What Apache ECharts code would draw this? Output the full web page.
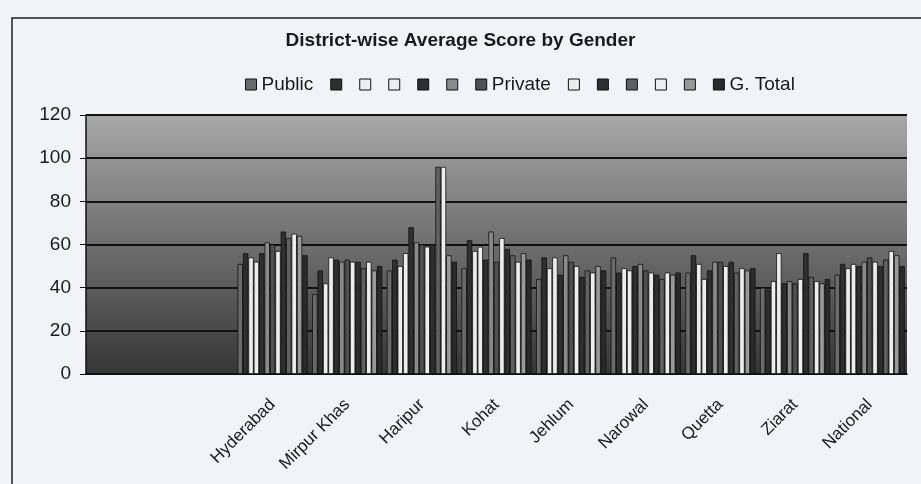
<!DOCTYPE html>
<html>
<head>
<meta charset="utf-8">
<script src="https://cdn.jsdelivr.net/npm/echarts@6/dist/echarts.min.js"></script>
<style>
  html, body { margin: 0; padding: 0; background: #f1f3f7; }
  #chart { width: 921px; height: 484px; }
</style>
</head>
<body>
<div id="chart"></div>
<script>
// districts (first two slots are empty in the original)
const districts = ['', '', 'Hyderabad', 'Mirpur Khas', 'Haripur', 'Kohat', 'Jehlum', 'Narowal', 'Quetta', 'Ziarat', 'National'];

// legend names, only three are labelled in the original
const seriesNames = ['Public', '', '', '', '', '', 'Private', '', '', '', '', '', 'G. Total'];
const seriesColors = ['#6a6a6a', '#2f2f2f', '#ededed', '#ededed', '#2f2f2f', '#8a8a8a', '#505050',
                      '#ededed', '#2f2f2f', '#606060', '#ededed', '#999999', '#2a2a2a'];

// one array per district, 13 bars each
const hyderabad  = [51, 56, 54, 52, 56, 61, 60, 57, 66, 63, 65, 64, 55];
const mirpurKhas = [37, 48, 42, 54, 53, 52, 53, 52, 52, 49, 52, 48, 50];
const haripur    = [48, 53, 50, 56, 68, 61, 60, 59, 60, 96, 96, 55, 52];
const kohat      = [49, 62, 57, 59, 53, 66, 52, 63, 58, 55, 52, 56, 53];
const jehlum     = [44, 54, 49, 54, 46, 55, 52, 50, 45, 48, 47, 50, 48];
const narowal    = [54, 47, 49, 48, 50, 51, 48, 47, 46, 44, 47, 46, 47];
const quetta     = [47, 55, 51, 44, 48, 52, 52, 50, 52, 47, 49, 48, 49];
const ziarat     = [40, 39, 43, 56, 42, 43, 42, 44, 56, 45, 43, 42, 44];
const national   = [46, 51, 49, 51, 50, 52, 54, 52, 50, 53, 57, 55, 50];

const rows = [null, null, hyderabad, mirpurKhas, haripur, kohat, jehlum, narowal, quetta, ziarat, national];

var myChart = echarts.init(document.getElementById('chart'));

const series = seriesNames.map((n, i) => {
  return {
    name: 's' + i,
    type: 'bar',
    barGap: '0%',
    barCategoryGap: '6%',
    itemStyle: { color: seriesColors[i], borderColor: '#111', borderWidth: 0.8 },
    data: rows.map(r => r ? r[i] : null)
  };
});

var option = {
  backgroundColor: '#f1f3f7',
  animation: false,
  textStyle: { fontFamily: 'Liberation Sans, Arial, sans-serif' },
  title: {
    text: 'District-wise Average Score by Gender',
    left: 'center',
    top: 26,
    textStyle: { fontSize: 19, fontWeight: 'bold', color: '#1a1a1a' }
  },
  legend: {
    left: 240,
    top: 70,
    itemWidth: 11,
    itemHeight: 11,
    itemGap: 17,
    icon: 'rect',
    data: seriesNames.map((n, i) => ({ name: 's' + i, itemStyle: { borderColor: '#111', borderWidth: 1 } })),
    formatter: name => seriesNames[+name.slice(1)],
    textStyle: { fontSize: 19, color: '#1a1a1a' }
  },
  grid: {
    left: 86,
    right: 14,
    top: 115,
    bottom: 110,
    show: true,
    borderWidth: 0,
    backgroundColor: new echarts.graphic.LinearGradient(0, 0, 0, 1, [
      { offset: 0, color: '#a8a8a8' },
      { offset: 0.5, color: '#6e6e6e' },
      { offset: 1, color: '#363636' }
    ])
  },
  xAxis: {
    type: 'category',
    data: districts,
    axisLine: { lineStyle: { color: '#111', width: 1.5 } },
    axisTick: { lineStyle: { color: '#111' }, length: 6 },
    axisLabel: { rotate: 45, interval: 0, fontSize: 17, color: '#1a1a1a', margin: 28 }
  },
  yAxis: {
    type: 'value',
    min: 0,
    max: 120,
    interval: 20,
    axisLine: { show: true, lineStyle: { color: '#111', width: 1.5 } },
    axisTick: { show: true, length: 6, lineStyle: { color: '#111' } },
    axisLabel: { fontSize: 19, color: '#1a1a1a', margin: 15 },
    splitLine: { lineStyle: { color: '#111', width: 2 } }
  },
  graphic: [{
    type: 'rect',
    shape: { x: 12, y: 18, width: 920, height: 480 },
    style: { fill: 'none', stroke: '#222', lineWidth: 1.5 },
    silent: true
  }],
  series
};

option && myChart.setOption(option);
</script>
</body>
</html>
